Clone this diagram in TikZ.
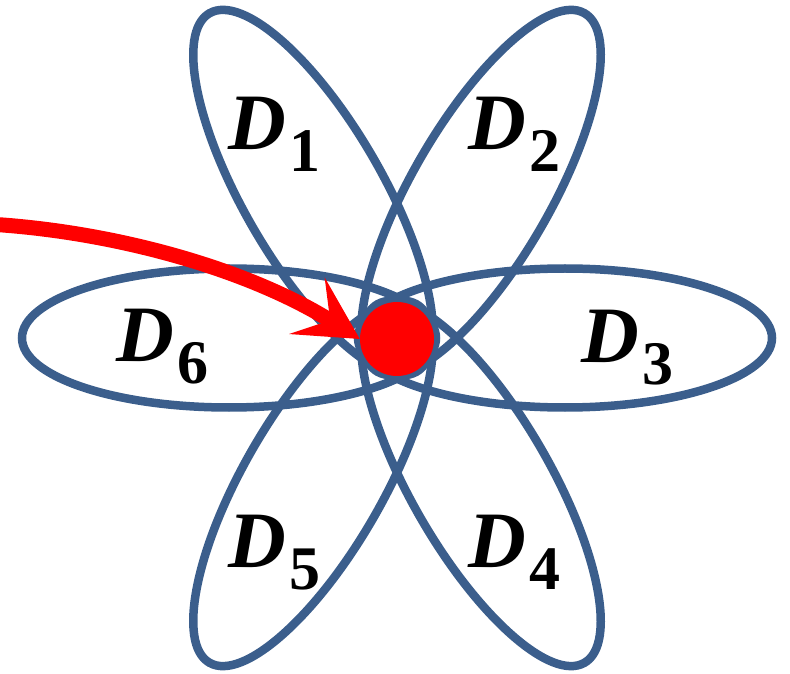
\documentclass[tikz,border=0pt]{standalone}
\usepackage{fontspec}
\newfontfamily\tnr{Liberation Serif}[BoldFont={Liberation Serif Bold}, BoldItalicFont={Liberation Serif Bold Italic}, ItalicFont={Liberation Serif Italic}]
\usetikzlibrary{arrows.meta}
\definecolor{petalblue}{HTML}{3B5E8C}
\newcommand{\Dlab}[1]{{\tnr\fontsize{80}{80}\selectfont\bfseries\itshape D}\kern4pt{\tnr\fontsize{62}{62}\selectfont\bfseries\raisebox{-22pt}{#1}}}
\begin{document}
\begin{tikzpicture}[x=1pt,y=1pt,
  petal/.style={draw=petalblue, line width=8.5pt},
  lbl/.style={anchor=base west, inner sep=0pt, outer sep=0pt},
  pointer/.style={draw=red, line width=15pt, -{Stealth[length=62pt, width=66pt, inset=27pt]}}
]
\useasboundingbox (0,0) rectangle (790,673);
\coordinate (C) at (397,335);
\foreach \a in {0,60,...,300} {
  \begin{scope}[shift={(C)}, rotate=\a]
    \draw[petal] (168,0) ellipse (207 and 69.5);
  \end{scope}
}
\node[lbl] (d1) at (228,523) {\Dlab{1}};
\node[lbl] (d2) at (468,523) {\Dlab{2}};
\node[lbl] (d3) at (581,310) {\Dlab{3}};
\node[lbl] (d4) at (468,106) {\Dlab{4}};
\node[lbl] (d5) at (228,106) {\Dlab{5}};
\node[lbl] (d6) at (116,311) {\Dlab{6}};
\node[circle, fill=red, minimum size=74pt, inner sep=0pt] (dot) at (397,334) {};
\coordinate (start) at (-4,448.5);
\draw[pointer] (start) .. controls (120,440) and (250,403) .. (dot.west);
\end{tikzpicture}
\end{document}
